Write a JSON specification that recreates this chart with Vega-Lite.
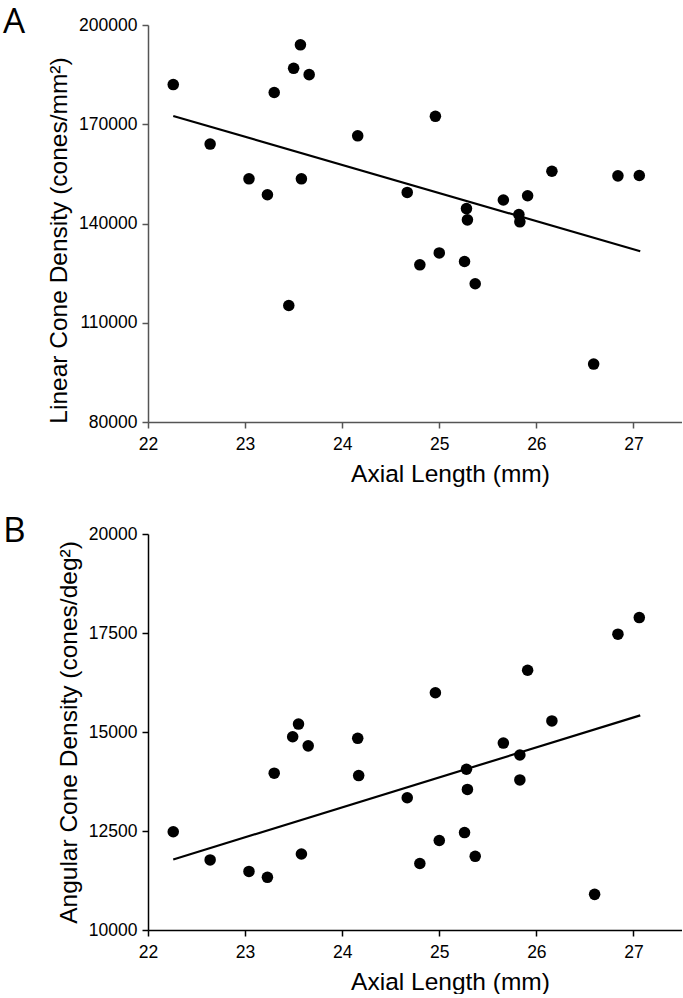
{
  "$schema": "https://vega.github.io/schema/vega-lite/v6.json",
  "background": "white",
  "padding": {"left": 3, "top": 5, "right": 0, "bottom": 0},
  "bounds": "flush",
  "spacing": 112,
  "config": {
    "view": {"stroke": null},
    "font": "Liberation Sans",
    "axis": {
      "grid": false,
      "labelFont": "Liberation Sans",
      "titleFont": "Liberation Sans",
      "labelFontSize": 17.5,
      "titleFontSize": 24.5,
      "titleFontWeight": "normal",
      "labelColor": "black",
      "titleColor": "black",
      "tickSize": 6,
      "domainWidth": 1.5,
      "tickWidth": 1.5,
      "labelFlush": false,
      "labelOverlap": false
    },
    "axisX": {"labelPadding": 7, "titlePadding": 10},
    "axisY": {"labelPadding": 5, "titlePadding": 7}
  },
  "datasets": {
    "a_points": [
      {"x": 22.26, "y": 182000}, {"x": 22.64, "y": 164000}, {"x": 23.04, "y": 153500},
      {"x": 23.23, "y": 148700}, {"x": 23.30, "y": 179600}, {"x": 23.45, "y": 115200},
      {"x": 23.50, "y": 186900}, {"x": 23.57, "y": 194000}, {"x": 23.58, "y": 153500},
      {"x": 23.66, "y": 185000}, {"x": 24.16, "y": 166500}, {"x": 24.67, "y": 149400},
      {"x": 24.80, "y": 127500}, {"x": 24.96, "y": 172400}, {"x": 25.00, "y": 131100},
      {"x": 25.26, "y": 128500}, {"x": 25.28, "y": 144500}, {"x": 25.29, "y": 141100},
      {"x": 25.37, "y": 121800}, {"x": 25.66, "y": 147100}, {"x": 25.82, "y": 142700},
      {"x": 25.83, "y": 140500}, {"x": 25.91, "y": 148400}, {"x": 26.16, "y": 155800},
      {"x": 26.59, "y": 97500}, {"x": 26.84, "y": 154400}, {"x": 27.06, "y": 154500}
    ],
    "a_line": [
      {"x": 22.26, "y": 172500}, {"x": 27.07, "y": 131600}
    ],
    "b_points": [
      {"x": 22.26, "y": 12480}, {"x": 22.64, "y": 11770}, {"x": 23.04, "y": 11480},
      {"x": 23.23, "y": 11330}, {"x": 23.30, "y": 13960}, {"x": 23.49, "y": 14880},
      {"x": 23.55, "y": 15200}, {"x": 23.58, "y": 11920}, {"x": 23.65, "y": 14650},
      {"x": 24.16, "y": 14840}, {"x": 24.17, "y": 13900}, {"x": 24.67, "y": 13340},
      {"x": 24.80, "y": 11680}, {"x": 24.96, "y": 15990}, {"x": 25.00, "y": 12260},
      {"x": 25.26, "y": 12460}, {"x": 25.28, "y": 14060}, {"x": 25.29, "y": 13550},
      {"x": 25.37, "y": 11860}, {"x": 25.66, "y": 14720}, {"x": 25.83, "y": 14420},
      {"x": 25.83, "y": 13790}, {"x": 25.91, "y": 16560}, {"x": 26.16, "y": 15280},
      {"x": 26.60, "y": 10900}, {"x": 26.84, "y": 17470}, {"x": 27.06, "y": 17890}
    ],
    "b_line": [
      {"x": 22.26, "y": 11780}, {"x": 27.07, "y": 15420}
    ]
  },
  "vconcat": [
    {
      "width": 534,
      "height": 397,
      "title": {"text": "A", "anchor": "start", "frame": "group", "orient": "top", "offset": -45, "dx": -145, "dy": 7, "baseline": "alphabetic", "font": "Open Sans", "fontSize": 35, "fontWeight": "normal", "color": "black"},
      "layer": [
        {
          "data": {"name": "a_points"},
          "mark": {"type": "circle", "size": 133, "color": "black", "opacity": 1},
          "encoding": {
            "x": {"field": "x", "type": "quantitative", "scale": {"domain": [22, 27.5], "nice": false, "zero": false},
                  "axis": {"title": "Axial Length (mm)", "values": [22, 23, 24, 25, 26, 27], "format": "d", "titleX": 302, "domainColor": "#555", "tickColor": "#555"}},
            "y": {"field": "y", "type": "quantitative", "scale": {"domain": [80000, 200000], "nice": false, "zero": false},
                  "axis": {"title": "Linear Cone Density (cones/mm²)", "values": [80000, 110000, 140000, 170000, 200000], "format": "d", "titleY": 215, "domainColor": "#555", "tickColor": "#555"}}
          }
        },
        {
          "data": {"name": "a_line"},
          "mark": {"type": "line", "color": "black", "strokeWidth": 2.2},
          "encoding": {
            "x": {"field": "x", "type": "quantitative", "scale": {"domain": [22, 27.5], "nice": false, "zero": false}},
            "y": {"field": "y", "type": "quantitative", "scale": {"domain": [80000, 200000], "nice": false, "zero": false}}
          }
        }
      ]
    },
    {
      "width": 534,
      "height": 396,
      "title": {"text": "B", "anchor": "start", "frame": "group", "orient": "top", "offset": -45, "dx": -145, "dy": 7, "baseline": "alphabetic", "font": "Open Sans", "fontSize": 35, "fontWeight": "normal", "color": "black"},
      "layer": [
        {
          "data": {"name": "b_points"},
          "mark": {"type": "circle", "size": 133, "color": "black", "opacity": 1},
          "encoding": {
            "x": {"field": "x", "type": "quantitative", "scale": {"domain": [22, 27.5], "nice": false, "zero": false},
                  "axis": {"title": "Axial Length (mm)", "values": [22, 23, 24, 25, 26, 27], "format": "d", "titleX": 302, "domainColor": "black", "tickColor": "black"}},
            "y": {"field": "y", "type": "quantitative", "scale": {"domain": [10000, 20000], "nice": false, "zero": false},
                  "axis": {"title": "Angular Cone Density (cones/deg²)", "values": [10000, 12500, 15000, 17500, 20000], "format": "d", "domainColor": "black", "tickColor": "black"}}
          }
        },
        {
          "data": {"name": "b_line"},
          "mark": {"type": "line", "color": "black", "strokeWidth": 2.2},
          "encoding": {
            "x": {"field": "x", "type": "quantitative", "scale": {"domain": [22, 27.5], "nice": false, "zero": false}},
            "y": {"field": "y", "type": "quantitative", "scale": {"domain": [10000, 20000], "nice": false, "zero": false}}
          }
        }
      ]
    }
  ]
}
